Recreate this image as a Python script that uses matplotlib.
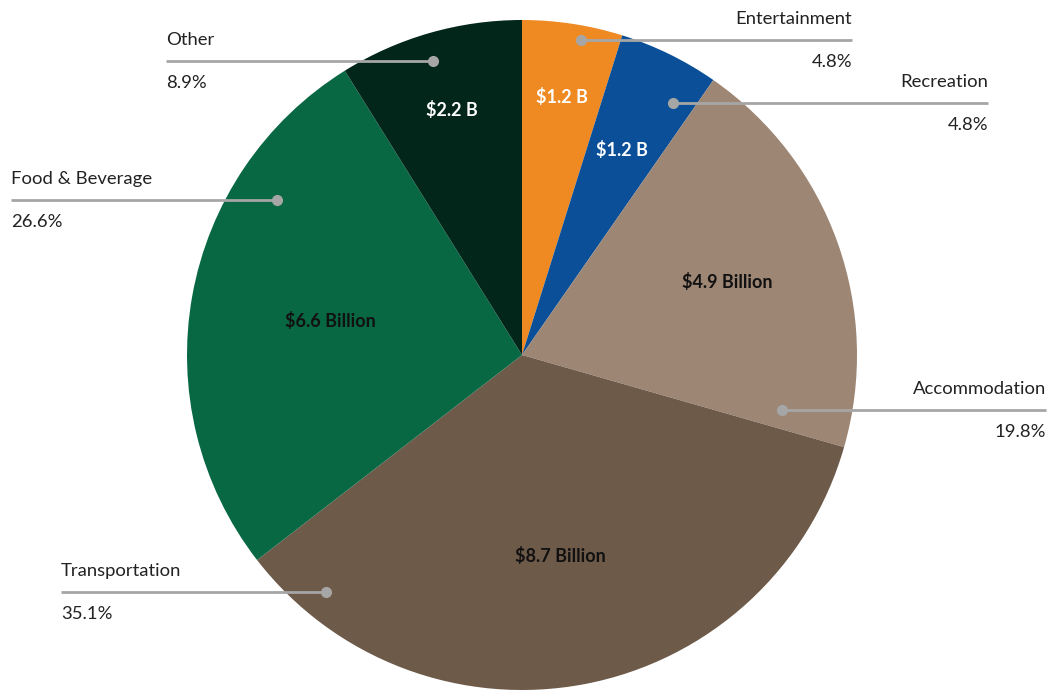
import numpy as np
import matplotlib.pyplot as plt

plt.rcParams['font.family'] = ['Lato', 'DejaVu Sans']

# ── Data (billions of dollars) ──────────────────────────────────────────────
categories = ['Entertainment', 'Recreation', 'Accommodation',
              'Transportation', 'Food & Beverage', 'Other']
spending = [1.2, 1.2, 4.9, 8.7, 6.6, 2.2]
value_labels = ['$1.2 B', '$1.2 B', '$4.9 Billion',
                '$8.7 Billion', '$6.6 Billion', '$2.2 B']

colors = ['#EF8A22', '#0A4F97', '#9E8674', '#6E5A49', '#086844', '#03261A']
value_colors = ['white', 'white', '#111111', '#111111', '#111111', 'white']

# ── Layout (pixel space, y measured from the top) ───────────────────────────
W, H = 1047, 690
CX, CY, R = 522, 355, 335

# inside labels: radial position as fraction of radius
value_rfrac = [0.78, 0.68, 0.65, 0.61, 0.58, 0.76]

# outside labels: side, x anchor of text, y of leader line, dot position on chord
callouts = {
    'Entertainment':   ('right', 852, 40, 0.60),
    'Recreation':      ('right', 988, 103, 0.75),
    'Accommodation':   ('right', 1046, 410, 0.50),
    'Transportation':  ('left', 61, 592, 0.08),
    'Food & Beverage': ('left', 11, 200, 0.25),
    'Other':           ('left', 166, 61, 0.43),
}


def fy(ypx):
    return H - ypx


fig = plt.figure(figsize=(W / 100, H / 100), dpi=100)
ax = fig.add_axes([0, 0, 1, 1])

total = sum(spending)
wedges, _ = ax.pie(spending, colors=colors, startangle=90, counterclock=False,
                   center=(CX, fy(CY)), radius=R,
                   wedgeprops=dict(linewidth=0))

ax.set_xlim(0, W)
ax.set_ylim(0, H)
ax.set_aspect('equal')
ax.axis('off')


def in_wedge(wedge, x, y):
    ang = np.degrees(np.arctan2(y - fy(CY), x - CX)) % 360
    t1, t2 = wedge.theta1 % 360, wedge.theta2 % 360
    if t1 <= t2:
        inside = (ang >= t1) & (ang <= t2)
    else:
        inside = (ang >= t1) | (ang <= t2)
    return inside & (np.hypot(x - CX, y - fy(CY)) < R - 2)


for wedge, cat, val, lab, vcol, rf in zip(wedges, categories, spending,
                                           value_labels, value_colors, value_rfrac):
    # value label inside the slice
    mid = np.radians((wedge.theta1 + wedge.theta2) / 2)
    ax.text(CX + rf * R * np.cos(mid), fy(CY) + rf * R * np.sin(mid), lab,
            color=vcol, fontsize=13, fontweight='bold', ha='center', va='center')

    # leader line with dot, name above and share below
    side, xa, ypx, frac = callouts[cat]
    y = fy(ypx)
    xs = np.linspace(CX - R, CX + R, 2000)
    inside = xs[in_wedge(wedge, xs, np.full_like(xs, y))]
    xdot = inside.min() + frac * (inside.max() - inside.min())
    ax.plot([xdot, xa], [y, y], color='#A6A6A6', lw=2, solid_capstyle='butt', zorder=3)
    ax.plot(xdot, y, 'o', color='#A6A6A6', ms=7, zorder=4)
    ha = 'right' if side == 'right' else 'left'
    ax.text(xa, y + 21, cat, ha=ha, va='center', fontsize=13.3, color='#222222')
    ax.text(xa, y - 22, f'{val / total * 100:.1f}%', ha=ha, va='center',
            fontsize=13.3, color='#222222')

fig.savefig('out.png', dpi=100)
